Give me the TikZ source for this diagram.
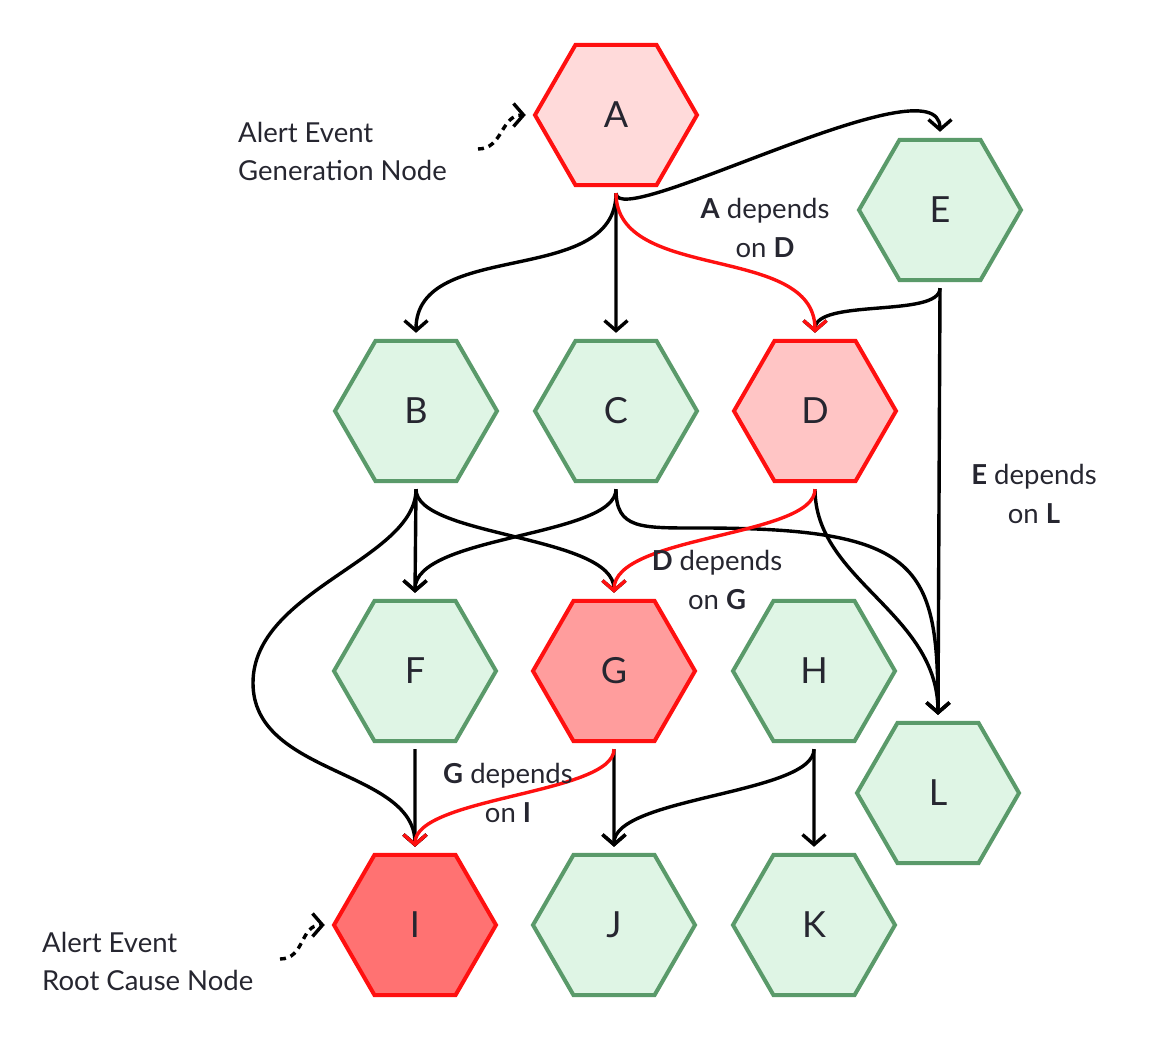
\documentclass[tikz,border=0pt]{standalone}
\usepackage{fontspec}
\setmainfont{Lato}
\usetikzlibrary{shapes.geometric}
\usetikzlibrary{arrows.meta}
\definecolor{okline}{HTML}{5A9A6A}
\definecolor{okfill}{HTML}{DFF5E5}
\definecolor{alertline}{HTML}{FF1010}
\definecolor{alertA}{HTML}{FFDADA}
\definecolor{alertD}{HTML}{FFC5C5}
\definecolor{alertG}{HTML}{FF9D9D}
\definecolor{alertI}{HTML}{FF7272}
\definecolor{ink}{HTML}{262630}

\begin{document}
\begin{tikzpicture}[x=1pt, y=-1pt]
    \tikzstyle{service} = [regular polygon, regular polygon sides=6, minimum size=162pt, inner sep=0pt, outer sep=8pt, line width=4pt, draw=okline, fill=okfill, text=ink, font=\fontsize{36}{40}\selectfont]
    \tikzstyle{alerted} = [service, draw=alertline]
    \tikzstyle{dependency} = [line width=3.4pt, -{Straight Barb[length=10pt, width=23pt]}]
    \tikzstyle{cause} = [dependency, draw=alertline]
    \tikzstyle{pointer} = [line width=3.4pt, dash pattern=on 6pt off 5pt, -{Straight Barb[length=10pt, width=23pt]}]
    \tikzstyle{note} = [anchor=west, inner sep=0pt, align=left, text=ink, font=\fontsize{27.5}{38}\selectfont]
    \tikzstyle{reason} = [inner sep=0pt, align=center, text=ink, font=\fontsize{27.5}{39}\selectfont]

    \useasboundingbox (0, 0) rectangle (1163, 1040);

    % services
    \node[alerted, fill=alertA] (A) at (616, 115) {A};
    \node[service] (E) at (940, 210) {E};
    \node[service] (B) at (416, 411) {B};
    \node[service] (C) at (616, 411) {C};
    \node[alerted, fill=alertD] (D) at (815, 411) {D};
    \node[service] (F) at (415, 671) {F};
    \node[alerted, fill=alertG] (G) at (614, 671) {G};
    \node[service] (H) at (814, 671) {H};
    \node[service] (L) at (938, 793) {L};
    \node[alerted, fill=alertI] (I) at (415, 925) {I};
    \node[service] (J) at (614, 925) {J};
    \node[service] (K) at (814, 925) {K};

    % calls
    \draw[dependency] (A.south) .. controls +(0, 95) and +(0, -95) .. (B.north);
    \draw[dependency] (A.south) -- (C.north);
    \draw[dependency] (A.south) .. controls +(0, 40) and +(0, -75) .. (E.north);
    \draw[dependency] (E.south) .. controls +(0, 30) and +(0, -35) .. (D.north);
    \draw[dependency] (E.south) -- (L.north);
    \draw[dependency] (B.south) -- (F.north);
    \draw[dependency] (B.south) .. controls +(0, 48) and +(0, -58) .. (G.north);
    \coordinate (B bend) at (253, 683);
    \draw[dependency] (B.south) .. controls +(0, 70) and +(0, -93) .. (B bend)
        .. controls +(0, 93) and +(0, -78) .. (I.north);
    \draw[dependency] (C.south) .. controls +(0, 48) and +(0, -58) .. (F.north);
    \coordinate (C bend) at (700, 528);
    \draw[dependency] (C.south) .. controls +(0, 40) and +(-60, 0) .. (C bend)
        .. controls +(220, 0) and +(0, -150) .. (L.north);
    \draw[dependency] (D.south) .. controls +(0, 91) and +(0, -102) .. (L.north);
    \draw[dependency] (F.south) -- (I.north);
    \draw[dependency] (G.south) -- (J.north);
    \draw[dependency] (H.south) .. controls +(0, 45) and +(0, -50) .. (J.north);
    \draw[dependency] (H.south) -- (K.north);

    % alert path
    \draw[cause] (A.south) .. controls +(0, 90) and +(0, -90) .. (D.north);
    \draw[cause] (D.south) .. controls +(0, 48) and +(0, -58) .. (G.north);
    \draw[cause] (G.south) .. controls +(0, 45) and +(0, -50) .. (I.north);

    \node[reason] (AD) at (765, 228) {\textbf{A} depends\\on \textbf{D}};
    \node[reason] (EL) at (1034, 494) {\textbf{E} depends\\on \textbf{L}};
    \node[reason] (DG) at (717, 580) {\textbf{D} depends\\on \textbf{G}};
    \node[reason] (GI) at (508, 793) {\textbf{G} depends\\on \textbf{I}};

    % notes
    \node[note] (gen note) at (238, 151) {Alert Event\\Generation Node};
    \coordinate (gen tail) at (478, 149);
    \draw[pointer] (gen tail) .. controls +(25, 0) and +(-25, 0) .. (A.west);
    \node[note] (root note) at (42, 961) {Alert Event\\Root Cause Node};
    \coordinate (root tail) at (280, 959);
    \draw[pointer] (root tail) .. controls +(25, 0) and +(-25, 0) .. (I.west);
\end{tikzpicture}
\end{document}
